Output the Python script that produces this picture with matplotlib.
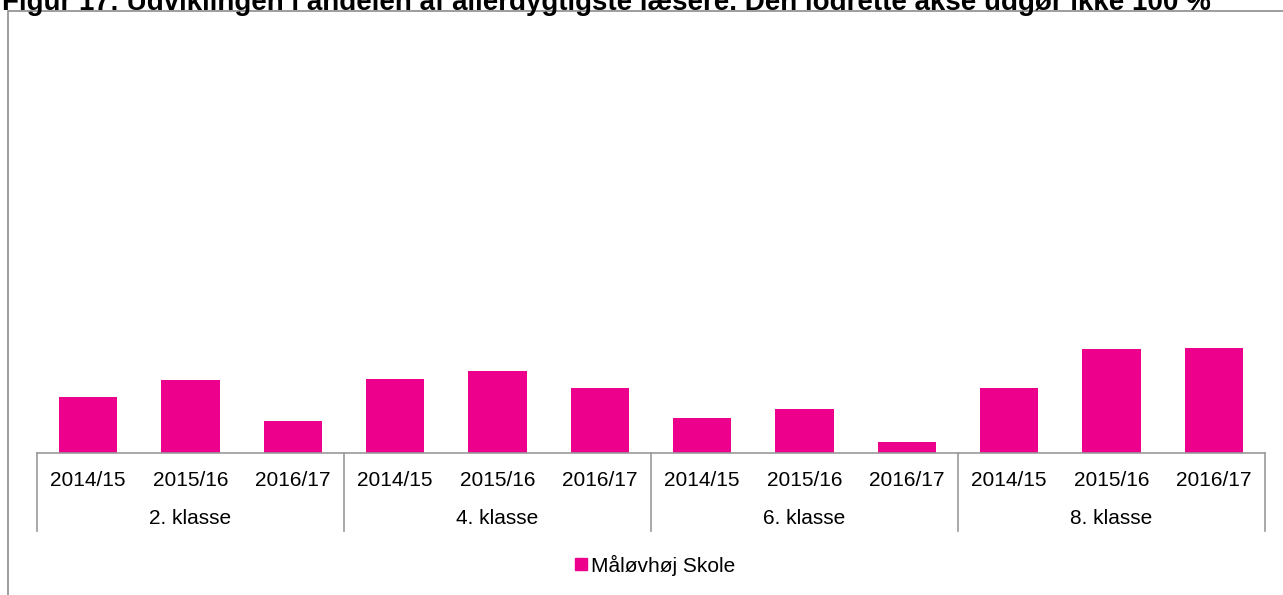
import numpy as np
import matplotlib
matplotlib.use("Agg")
import matplotlib.pyplot as plt
from matplotlib.patches import Patch, Rectangle

plt.rcParams['font.family'] = ['Liberation Sans', 'DejaVu Sans']

# data (share of pupils, %)
grades = ['2. klasse', '4. klasse', '6. klasse', '8. klasse']
years = ['2014/15', '2015/16', '2016/17']
values = [5.3, 6.9, 3.0,
          7.0, 7.8, 6.1,
          3.3, 4.2, 1.0,
          6.1, 9.8, 9.9]
series_name = 'Måløvhøj Skole'
title = 'Figur 17: Udviklingen i andelen af allerdygtigste læsere. Den lodrette akse udgør ikke 100 %'

W, H = 1283, 595
fig = plt.figure(figsize=(W / 100, H / 100), dpi=100)
ax = fig.add_axes([37 / W, 1 - 453 / H, (1265 - 37) / W, (453 - 30) / H])

color = '#EC008C'
x = np.arange(len(values))
ax.bar(x, values, width=0.57, color=color)
ax.set_xlim(-0.5, len(values) - 0.5)
ax.set_ylim(0, 40)

for s in ['top', 'left', 'right']:
    ax.spines[s].set_visible(False)
ax.spines['bottom'].set_color('#999999')
ax.spines['bottom'].set_linewidth(1.2)
ax.set_yticks([])
ax.set_xticks(x)
ax.set_xticklabels(years * len(grades), fontsize=15)
ax.tick_params(axis='x', length=0, pad=13)

# group separators and group labels
sep_depth = 78 / (453 - 30)
for i in range(len(grades) + 1):
    ax.axvline(i * 3 - 0.5, ymin=-sep_depth, ymax=0, color='#999999', lw=1.2, clip_on=False)
for i, g in enumerate(grades):
    ax.annotate(g, xy=(i * 3 + 1, 0), xycoords=('data', 'axes fraction'),
                xytext=(0, -65 * 72 / 100), textcoords='offset points',
                ha='center', va='center', fontsize=15)

# chart frame (partly cut off in the original)
fig.add_artist(Rectangle((7.5 / W, -0.1), 1.2, 1.1 - 11.5 / H, transform=fig.transFigure,
                         fill=False, edgecolor='#8c8c8c', lw=1.2))

# title sits half outside the picture, as in the original
fig.text(2 / W, 1 - 10 / H, title, fontsize=20, fontweight='bold', va='baseline', ha='left')

fig.legend(handles=[Patch(color=color, label=series_name)], loc='center',
           bbox_to_anchor=(655 / W, 30 / H), frameon=False, fontsize=15,
           handlelength=0.55, handleheight=0.55, handletextpad=0.2)

fig.savefig('out.png', dpi=100)
